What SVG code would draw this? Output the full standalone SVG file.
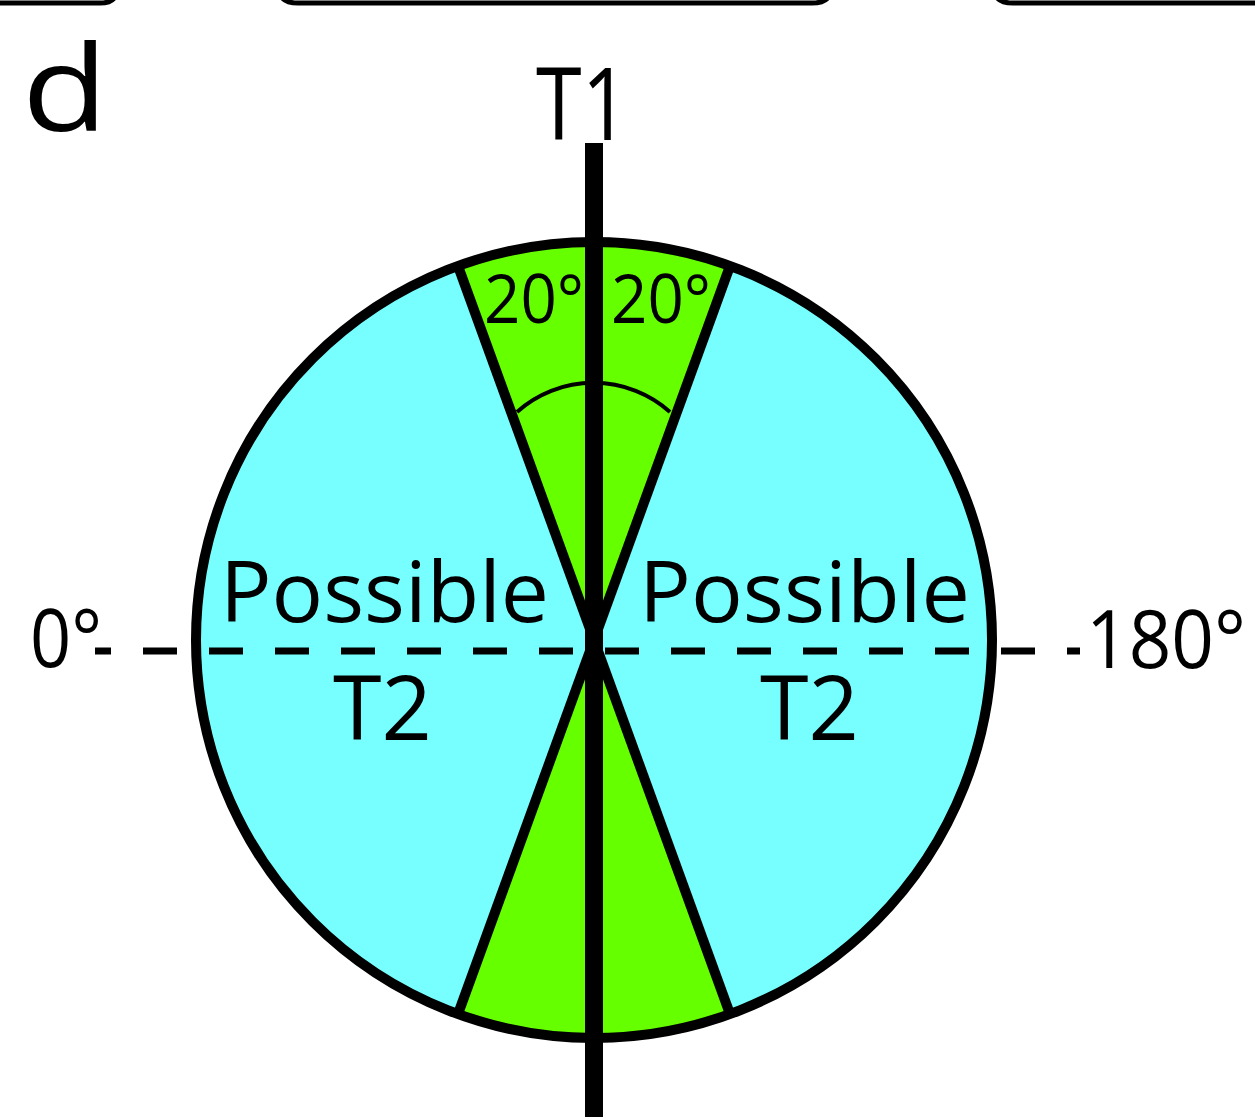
<svg xmlns="http://www.w3.org/2000/svg" width="1255" height="1117" viewBox="0 0 1255 1117">
<style>
.t{font-family:"Open Sans","Liberation Sans",sans-serif;fill:#000}
.ln{stroke:#000;fill:none}
</style>
<rect width="1255" height="1117" fill="#fff"/>
<g id="top-edge" class="ln" stroke-width="5">
<path d="M-5,3 L100,3 Q114,3 116,-6"/>
<path d="M280,-6 Q283,3 298,3 L812,3 Q827,3 830,-6"/>
<path d="M995,-6 Q998,3 1013,3 L1260,3"/>
</g>
<g id="disc">
<circle cx="594" cy="640" r="398" fill="#77FFFF"/>
<path d="M594,640 L458,266 A398,398 0 0 1 730,266 Z" fill="#66FF00"/>
<path d="M594,640 L730,1014 A398,398 0 0 1 458,1014 Z" fill="#66FF00"/>
</g>
<g id="connectors" class="ln">
<line x1="458" y1="266" x2="730" y2="1014" stroke-width="10"/>
<line x1="730" y1="266" x2="458" y2="1014" stroke-width="10"/>
<circle cx="594" cy="640" r="398" stroke-width="10"/>
<path d="M517,412 A115,115 0 0 1 670,412" stroke-width="4"/>
<line x1="95" y1="651" x2="1080" y2="651" stroke-width="7" stroke-dasharray="34 32" stroke-dashoffset="18"/>
<line x1="594" y1="143" x2="594" y2="1117" stroke-width="18"/>
</g>
<g id="labels">
<text class="t" transform="translate(22,131) scale(1.18,1)" x="0" y="0" font-size="119">d</text>
<text class="t" x="536" y="140" font-size="100" textLength="93" lengthAdjust="spacingAndGlyphs">T1</text>
<text class="t" x="484" y="323" font-size="67" textLength="100" lengthAdjust="spacingAndGlyphs">20°</text>
<text class="t" x="611" y="323" font-size="67" textLength="100" lengthAdjust="spacingAndGlyphs">20°</text>
<text class="t" x="220" y="622" font-size="84" textLength="329" lengthAdjust="spacingAndGlyphs">Possible</text>
<text class="t" x="639" y="622" font-size="84" textLength="331" lengthAdjust="spacingAndGlyphs">Possible</text>
<text class="t" x="333" y="740" font-size="90" textLength="99" lengthAdjust="spacingAndGlyphs">T2</text>
<text class="t" x="760" y="740" font-size="90" textLength="99" lengthAdjust="spacingAndGlyphs">T2</text>
<text class="t" x="30" y="667" font-size="80" textLength="72" lengthAdjust="spacingAndGlyphs">0°</text>
<text class="t" x="1086" y="668" font-size="80" textLength="160" lengthAdjust="spacingAndGlyphs">180°</text>
</g>
</svg>
